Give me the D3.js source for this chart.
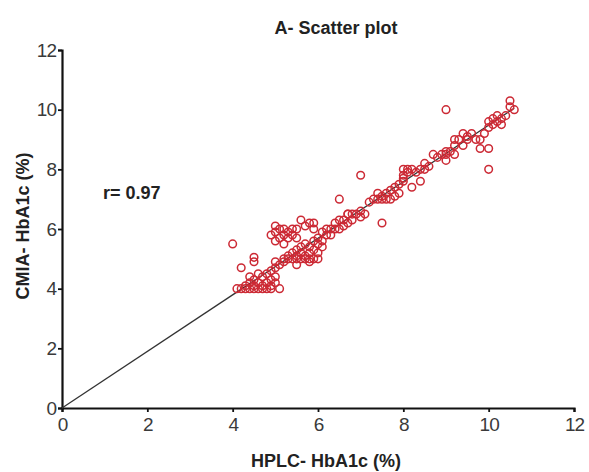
<!DOCTYPE html>
<html>
<head>
<meta charset="utf-8">
<script src="https://cdn.jsdelivr.net/npm/d3@7"></script>
<style>
  body { margin: 0; background: #fff; }
  text { font-family: "Liberation Sans", Arial, sans-serif; }
  .tick text { fill: #3a3a3a; }
  .axis-label, .title, .rtext { font-weight: bold; fill: #222; }
</style>
</head>
<body>
<svg id="scatter" width="589" height="472"></svg>
<script>
// HPLC (x) vs CMIA (y) HbA1c values
const hplc = [
  4.1, 4.2, 4.3, 4.3, 4.4, 4.4, 4.5, 4.5, 4.5, 4.6, 4.6, 4.7, 4.7, 4.7, 4.8, 4.8, 4.8, 4.9, 4.9, 4.9, 5.0, 5.0, 5.1, 4.6, 4.4, 4.9,
  4.0, 4.2, 4.5, 4.5,
  5.0, 5.0, 5.1, 5.2, 5.2, 5.3, 5.3, 5.4, 5.4, 5.5, 5.5, 5.5, 5.6, 5.6, 5.6, 5.7, 5.7, 5.7, 5.8, 5.8, 5.8, 5.9, 5.9, 5.9, 6.0, 6.0, 6.0, 6.0, 5.5, 5.8, 6.1, 6.1,
  4.9, 5.0, 5.0, 5.0, 5.1, 5.1, 5.2, 5.2, 5.3, 5.3, 5.4, 5.4, 5.5, 5.5, 5.6, 5.7, 5.8, 5.9, 5.9, 5.2,
  6.1, 6.2, 6.2, 6.3, 6.3, 6.4, 6.4, 6.5, 6.5, 6.6, 6.6, 6.7, 6.7, 6.8, 6.8, 6.9, 7.0, 7.0, 6.5, 6.7, 7.1, 7.0,
  7.2, 7.3, 7.4, 7.4, 7.5, 7.5, 7.6, 7.6, 7.7, 7.7, 7.8, 7.8, 7.9, 7.5, 7.9, 8.0,
  8.0, 8.0, 8.1, 8.1, 8.2, 8.2, 8.0, 8.3, 8.4, 8.4, 8.5, 8.5, 8.6, 8.7, 8.8, 8.9, 9.0, 9.0, 9.0, 9.1, 9.0,
  9.2, 9.2, 9.3, 9.4, 9.5, 9.5, 9.6, 9.7, 9.8, 9.8, 9.9, 10.0, 10.0, 10.0, 10.0, 10.1, 10.1, 10.2, 10.2, 10.3, 10.3, 10.4, 10.5, 10.5, 10.6, 9.4, 9.2
];
const cmia = [
  4.0, 4.0, 4.0, 4.1, 4.0, 4.2, 4.0, 4.1, 4.3, 4.0, 4.2, 4.0, 4.1, 4.4, 4.0, 4.2, 4.5, 4.1, 4.3, 4.6, 4.2, 4.4, 4.0, 4.5, 4.4, 4.0,
  5.5, 4.7, 4.9, 5.05,
  4.7, 4.9, 4.8, 5.0, 4.9, 5.0, 5.1, 5.0, 5.2, 5.0, 5.1, 5.3, 5.0, 5.2, 5.4, 5.0, 5.1, 5.5, 5.0, 5.2, 5.4, 5.0, 5.3, 5.6, 5.0, 5.2, 5.5, 5.7, 4.8, 4.9, 5.6, 5.4,
  5.8, 6.1, 5.9, 5.6, 6.0, 5.7, 6.0, 5.8, 5.7, 5.9, 6.0, 5.8, 6.0, 5.7, 6.3, 6.1, 6.2, 6.2, 6.0, 5.5,
  5.9, 5.8, 6.0, 5.8, 6.0, 6.0, 6.2, 6.0, 6.3, 6.1, 6.3, 6.2, 6.5, 6.3, 6.5, 6.5, 6.6, 6.4, 7.0, 6.5, 6.5, 7.8,
  6.9, 7.0, 7.0, 7.2, 7.0, 7.1, 7.0, 7.2, 7.0, 7.3, 7.1, 7.4, 7.5, 6.2, 7.2, 7.6,
  7.8, 8.0, 7.9, 8.0, 8.0, 7.4, 7.7, 7.9, 8.0, 7.6, 8.0, 8.2, 8.1, 8.5, 8.4, 8.5, 8.5, 8.3, 8.6, 8.6, 10.0,
  8.8, 9.0, 9.0, 8.8, 9.0, 9.1, 9.2, 9.0, 9.0, 8.7, 9.2, 9.4, 9.6, 8.0, 8.7, 9.5, 9.7, 9.6, 9.8, 9.5, 9.7, 9.8, 10.3, 10.1, 10.0, 9.2, 8.5
];
// fitted line end points
const fitX = [0, 10.6];
const fitY = [0, 10.05];
const xTicks = [0, 2, 4, 6, 8, 10, 12];
const yTicks = [0, 2, 4, 6, 8, 10, 12];

const svg = d3.select('#scatter');
const margin = {top: 50, right: 15, bottom: 64, left: 62};
const width = +svg.attr('width');
const height = +svg.attr('height');
const innerWidth = width - margin.left - margin.right;
const innerHeight = height - margin.top - margin.bottom;

const g = svg.append('g')
    .attr('transform', `translate(${margin.left}, ${margin.top})`);

const xScale = d3.scaleLinear().domain([0, 12]).range([0, innerWidth]);
const yScale = d3.scaleLinear().domain([0, 12]).range([innerHeight, 0]);

const xAxisG = g.append('g')
    .attr('transform', `translate(0, ${innerHeight})`)
    .call(d3.axisBottom(xScale).tickValues(xTicks).tickSize(4).tickPadding(6));
const yAxisG = g.append('g')
    .call(d3.axisLeft(yScale).tickValues(yTicks).tickSize(4).tickPadding(2));

[xAxisG, yAxisG].forEach(a => {
  a.select('.domain').attr('stroke', '#111').attr('stroke-width', 2.2);
  a.selectAll('.tick line').attr('stroke', '#111').attr('stroke-width', 1.8);
  a.selectAll('.tick text')
    .attr('font-size', 19)
    .attr('letter-spacing', -1);
});

// regression line
g.append('line')
    .attr('x1', xScale(fitX[0])).attr('y1', yScale(fitY[0]))
    .attr('x2', xScale(fitX[1])).attr('y2', yScale(fitY[1]))
    .attr('stroke', '#333')
    .attr('stroke-width', 1.3);

const data = hplc.map((d, i) => ({x: d, y: cmia[i]}));
g.selectAll('circle').data(data)
  .enter().append('circle')
    .attr('cx', d => xScale(d.x))
    .attr('cy', d => yScale(d.y))
    .attr('r', 3.8)
    .attr('fill', 'none')
    .attr('stroke', '#cc2a35')
    .attr('stroke-width', 1.5);

svg.append('text')
    .attr('class', 'title')
    .attr('x', 336).attr('y', 34)
    .attr('text-anchor', 'middle')
    .attr('font-size', 18)
    .text('A- Scatter plot');

svg.append('text')
    .attr('class', 'axis-label')
    .attr('x', 326).attr('y', 467)
    .attr('text-anchor', 'middle')
    .attr('font-size', 18)
    .text('HPLC- HbA1c (%)');

svg.append('text')
    .attr('class', 'axis-label')
    .attr('transform', 'translate(29, 226) rotate(-90)')
    .attr('text-anchor', 'middle')
    .attr('font-size', 18)
    .text('CMIA- HbA1c (%)');

svg.append('text')
    .attr('class', 'rtext')
    .attr('x', 103).attr('y', 199)
    .attr('font-size', 18)
    .text('r= 0.97');
</script>
</body>
</html>
